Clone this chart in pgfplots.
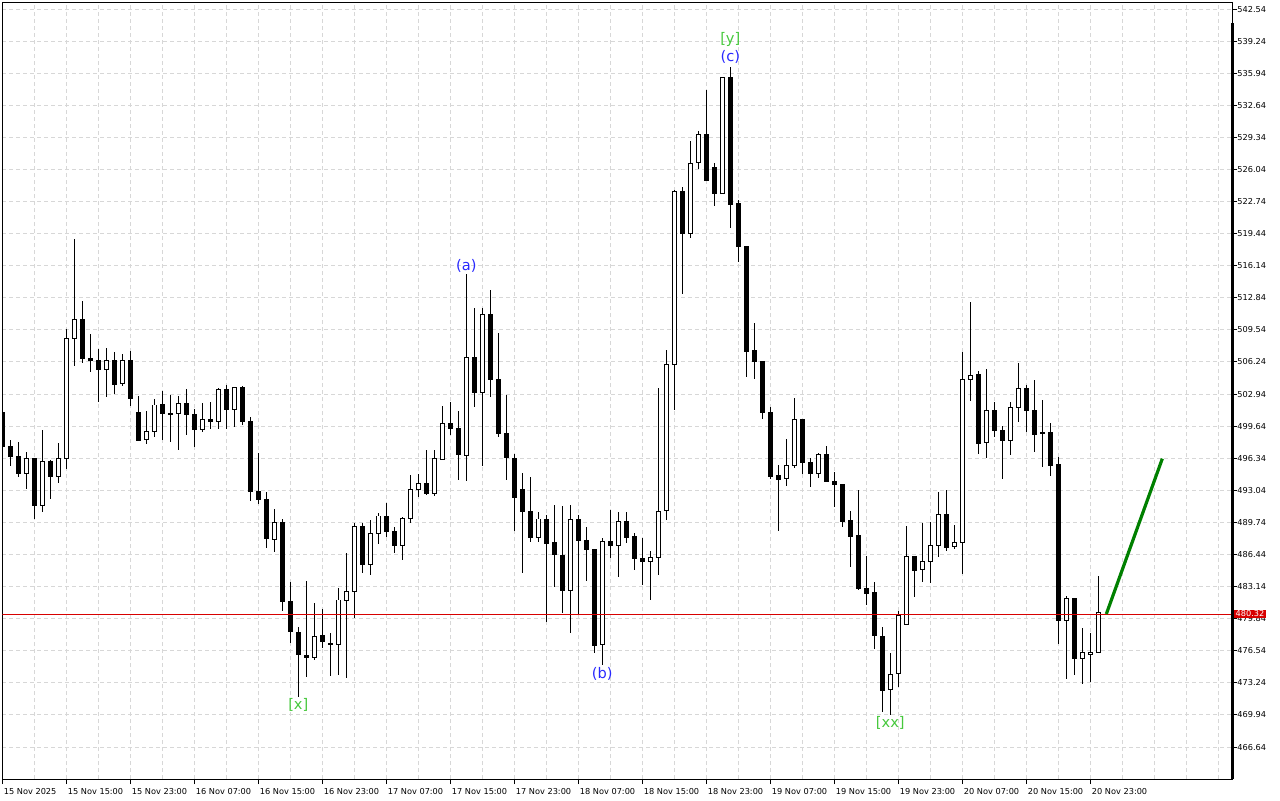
\documentclass[border=0pt]{standalone}
\usepackage{pgfplots}
\pgfplotsset{compat=1.18}
\usepackage{pgfplotstable}
\usepackage{fontspec}
\setmainfont{DejaVu Sans}
\definecolor{gridc}{RGB}{215,215,215}
\definecolor{wblue}{RGB}{40,40,255}
\definecolor{wgreen}{RGB}{70,200,60}
\definecolor{pgreen}{RGB}{0,128,0}
\definecolor{pricered}{RGB}{215,0,0}
\newcommand{\tickfont}{\fontsize{4.1}{5}\selectfont}
\newcommand{\wavefont}{\fontsize{7.3}{8}\selectfont}

\pgfplotstableread{
i O H L C
0 501.03 501.10 497.50 497.53
1 497.60 498.22 495.54 496.50
2 496.57 498.01 494.38 494.79
3 494.79 496.95 493.21 496.33
4 496.36 496.40 490.09 491.46
5 491.46 499.24 490.84 496.02
6 496.05 496.16 492.18 494.44
7 494.44 497.91 493.83 496.33
8 496.33 509.63 495.27 508.67
9 508.67 518.89 505.86 510.62
10 510.62 512.51 506.17 506.61
11 506.65 509.08 505.24 506.41
12 506.41 507.54 502.16 505.48
13 505.48 507.68 502.67 506.41
14 506.41 507.23 502.98 503.94
15 504.04 507.03 503.80 506.41
16 506.41 507.33 501.75 502.47
17 501.06 502.74 498.15 498.21
18 498.28 501.20 497.80 499.11
19 499.07 502.40 498.56 501.82
20 501.82 503.26 498.22 500.96
21 500.96 502.84 498.05 500.86
22 500.96 502.74 497.19 501.99
23 501.99 503.46 498.73 500.86
24 500.86 501.40 497.53 499.31
25 499.31 501.99 499.07 500.34
26 500.34 502.09 499.38 500.13
27 500.13 503.53 499.38 503.43
28 503.43 503.87 499.38 501.37
29 501.37 503.70 499.59 503.63
30 503.63 503.77 499.76 500.10
31 500.10 500.62 491.98 492.90
32 492.97 496.91 491.60 492.11
33 492.11 492.83 487.14 488.10
34 487.99 491.12 486.73 489.75
35 489.75 490.06 480.67 481.62
36 481.62 483.58 477.37 478.51
37 478.44 479.02 471.82 476.18
38 476.01 483.72 473.88 475.87
39 475.87 481.42 475.60 477.99
40 478.06 480.80 476.86 477.48
41 477.25 478.40 473.95 477.15
42 477.20 482.96 474.05 481.76
43 481.69 486.56 473.78 482.62
44 482.62 489.65 479.95 489.31
45 489.31 489.65 484.57 485.43
46 485.43 490.00 484.30 488.62
47 488.62 490.68 487.52 490.40
48 490.40 491.71 488.28 488.79
49 488.79 489.31 486.56 487.35
50 487.35 490.33 485.88 490.16
51 490.16 494.62 489.72 493.08
52 493.08 494.69 492.39 493.76
53 493.76 497.19 492.56 492.73
54 492.73 497.19 492.49 496.33
55 496.26 501.75 496.16 499.93
56 499.93 502.09 498.73 499.42
57 499.42 501.20 494.11 496.74
58 496.64 515.29 494.04 506.72
59 506.72 511.76 501.65 503.12
60 503.12 511.76 495.58 511.14
61 511.14 513.64 502.68 504.46
62 504.46 509.26 498.56 498.90
63 498.90 502.85 494.11 496.40
64 496.33 496.74 488.89 492.29
65 493.08 494.86 484.58 490.85
66 490.85 494.38 487.76 488.21
67 488.21 490.78 487.76 490.09
68 490.09 490.51 479.54 487.59
69 487.69 491.53 483.14 486.46
70 486.29 491.43 480.46 482.73
71 482.73 491.53 478.34 490.09
72 490.09 490.51 480.22 487.87
73 487.93 489.31 483.75 486.98
74 486.98 487.04 476.28 477.07
75 477.16 488.14 475.12 487.73
76 487.73 490.99 486.11 487.41
77 487.33 490.79 484.16 489.85
78 489.85 490.79 487.65 488.22
79 488.26 488.63 484.81 485.99
80 485.99 488.14 483.34 485.70
81 485.70 486.80 481.75 486.11
82 486.11 503.52 484.28 490.87
83 491.00 507.46 489.97 505.96
84 505.96 523.94 501.28 523.74
85 523.74 524.27 513.24 519.46
86 519.46 529.02 518.98 526.71
87 526.71 530.04 526.10 529.63
88 529.63 534.19 524.84 524.96
89 526.26 526.67 522.31 523.61
90 523.61 535.60 523.53 535.53
91 535.53 536.63 520.07 522.43
92 522.52 522.92 516.54 518.12
93 518.16 518.20 504.74 507.35
94 507.47 510.22 504.49 506.27
95 506.34 506.40 500.34 501.03
96 501.06 501.58 494.17 494.45
97 494.52 495.65 488.90 494.17
98 494.28 498.32 493.52 495.61
99 495.58 502.50 495.37 500.28
100 500.28 500.30 494.72 495.89
101 495.92 496.33 493.42 494.79
102 494.79 496.92 494.35 496.75
103 496.75 497.60 493.87 493.93
104 493.97 494.93 491.36 493.66
105 493.66 493.70 489.31 489.82
106 489.89 490.92 485.19 488.28
107 488.35 493.08 482.79 482.90
108 482.96 486.29 481.25 482.38
109 482.55 483.58 476.73 478.09
110 478.06 479.02 470.28 472.44
111 472.58 476.28 469.94 474.12
112 474.22 480.63 472.85 480.12
113 479.26 489.37 479.20 486.22
114 486.28 486.30 482.10 484.78
115 484.91 489.64 483.64 485.70
116 485.70 489.75 483.54 487.35
117 487.35 492.83 486.22 490.57
118 490.57 493.07 486.83 487.14
119 487.24 489.47 486.98 487.69
120 487.69 507.23 484.40 504.45
121 504.45 512.37 502.26 504.83
122 504.97 505.31 496.77 497.87
123 497.97 505.52 496.40 501.30
124 501.30 502.09 498.56 499.17
125 499.24 499.65 494.20 498.15
126 498.15 502.09 496.67 501.57
127 501.57 506.17 500.10 503.53
128 503.53 503.87 499.07 501.23
129 501.30 504.38 497.01 498.83
130 499.00 502.33 495.47 498.87
131 499.00 499.93 494.55 495.57
132 495.65 496.51 477.24 479.64
133 479.64 482.18 473.64 481.94
134 481.94 481.94 474.05 475.70
135 475.70 478.85 473.13 476.38
136 476.18 478.37 473.37 476.38
137 476.38 484.24 476.38 480.45
}\candles

\begin{document}
\begin{tikzpicture}[x=1pt,y=1pt]
\begin{axis}[
  name=ax,
  at={(0,0)}, anchor=south west,
  width=614.85pt, height=388.35pt, scale only axis,
  xmin=0, xmax=153.71, ymin=463.35, ymax=543.23,
  clip mode=individual,
  axis line style={black, line width=0.5pt},
  tick align=outside,
  major tick length=2.5pt,
  minor tick length=0pt,
  tick style={black, line width=0.5pt},
  xtick pos=left, ytick pos=right,
  yticklabel pos=right,
  xtick={0,8,...,136},
  xticklabels={15 Nov 2025,15 Nov 15:00,15 Nov 23:00,16 Nov 07:00,16 Nov 15:00,16 Nov 23:00,17 Nov 07:00,17 Nov 15:00,17 Nov 23:00,18 Nov 07:00,18 Nov 15:00,18 Nov 23:00,19 Nov 07:00,19 Nov 15:00,19 Nov 23:00,20 Nov 07:00,20 Nov 15:00,20 Nov 23:00},
  minor xtick={4,8,...,152},
  ytick={466.64,469.94,473.24,476.54,479.84,483.14,486.44,489.74,493.04,496.34,499.64,502.94,506.24,509.54,512.84,516.14,519.44,522.74,526.04,529.34,532.64,535.94,539.24,542.54},
  yticklabels={466.64,469.94,473.24,476.54,479.84,483.14,486.44,489.74,493.04,496.34,499.64,502.94,506.24,509.54,512.84,516.14,519.44,522.74,526.04,529.34,532.64,535.94,539.24,542.54},
  xmajorgrids=false, xminorgrids=true, ymajorgrids=true,
  grid style={gridc, line width=0.5pt, dash pattern=on 2pt off 1.5pt},
  minor grid style={gridc, line width=0.5pt, dash pattern=on 2pt off 1.5pt},
  xticklabel style={font=\tickfont, anchor=north west, inner sep=0pt, xshift=0.6pt, yshift=-1.8pt},
  yticklabel style={font=\tickfont, anchor=west, inner sep=0pt, xshift=0pt},
]
% wicks
\addplot[draw=none, mark=none, forget plot,
  error bars/.cd, y dir=both, y explicit, error mark=none,
  error bar style={draw=black, line width=0.5pt}]
  table[x=i, y expr={(\thisrow{H}+\thisrow{L})/2}, y error expr={(\thisrow{H}-\thisrow{L})/2}] {\candles};
% bearish bodies
\addplot[draw=none, mark=none, forget plot,
  restrict expr to domain={\thisrow{O}-\thisrow{C}}{0:1000},
  error bars/.cd, y dir=both, y explicit, error mark=none,
  error bar style={draw=black, line width=2.5pt}]
  table[x=i, y expr={(\thisrow{O}+\thisrow{C})/2}, y error expr={abs(\thisrow{O}-\thisrow{C})/2+0.05}] {\candles};
% bullish bodies: outline
\addplot[draw=none, mark=none, forget plot,
  restrict expr to domain={\thisrow{C}-\thisrow{O}}{0.0001:1000},
  error bars/.cd, y dir=both, y explicit, error mark=none,
  error bar style={draw=black, line width=2.5pt}]
  table[x=i, y expr={(\thisrow{O}+\thisrow{C})/2}, y error expr={abs(\thisrow{O}-\thisrow{C})/2+0.05}] {\candles};
% bullish bodies: white inside
\addplot[draw=none, mark=none, forget plot,
  restrict expr to domain={\thisrow{C}-\thisrow{O}}{0.0001:1000},
  error bars/.cd, y dir=both, y explicit, error mark=none,
  error bar style={draw=white, line width=1.5pt}]
  table[x=i, y expr={(\thisrow{O}+\thisrow{C})/2}, y error expr={max(abs(\thisrow{O}-\thisrow{C})/2-0.05,0)}] {\candles};
% current price line
\addplot[pricered, line width=0.5pt, forget plot] coordinates {(0,480.32) (153.71,480.32)};
% projection
\addplot[pgreen, line width=1.6pt, forget plot] coordinates {(138,480.32) (145,496.30)};
% right border thick part
\draw[black, line width=1.5pt] (axis cs:153.71,541.10) -- (axis cs:153.71,463.35);
% wave labels
\node[wblue, font=\wavefont] at (axis cs:58,516.11) {(a)};
\node[wblue, font=\wavefont] at (axis cs:75,474.15) {(b)};
\node[wblue, font=\wavefont] at (axis cs:91,537.57) {(c)};
\node[wgreen, font=\wavefont] at (axis cs:91,539.45) {[y]};
\node[wgreen, font=\wavefont] at (axis cs:37,470.96) {[x]};
\node[wgreen, font=\wavefont] at (axis cs:111,469.11) {[xx]};
\coordinate (pl) at (axis cs:153.71,480.32);
\end{axis}
\node[fill=pricered, text=white, font=\tickfont, inner sep=0.6pt, anchor=west] at ([xshift=1pt]pl) {480.32};
\pgfresetboundingbox
\path[use as bounding box] ([shift={(-1.15pt,-10.5pt)}]ax.south west) rectangle ([shift={(638.85pt,389.5pt)}]ax.south west);
\end{tikzpicture}
\end{document}
